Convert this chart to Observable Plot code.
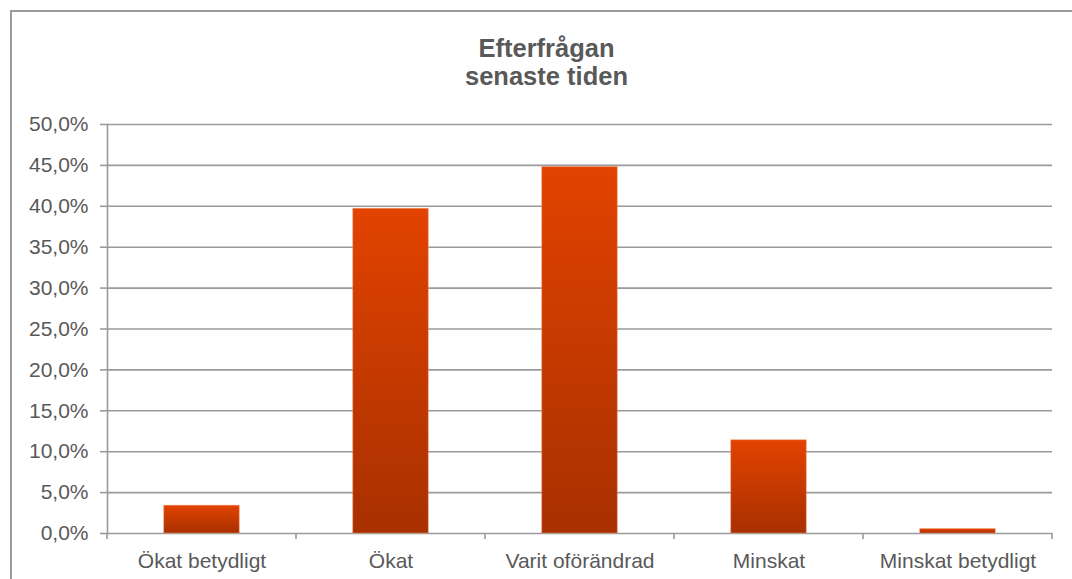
<!DOCTYPE html>
<html><head><meta charset="utf-8">
<script src="https://cdn.jsdelivr.net/npm/d3@7"></script>
<script src="https://cdn.jsdelivr.net/npm/@observablehq/plot@0.6"></script>
<style>
html,body{margin:0;padding:0;background:#fff;overflow:hidden;}
#wrap{position:relative;width:1072px;height:579px;font-family:"Liberation Sans",Arial,sans-serif;}
#frame{position:absolute;left:10px;top:10px;width:1100px;height:620px;border:2px solid #9a9a9a;box-sizing:border-box;}
#title{position:absolute;left:0;width:1093px;top:34px;text-align:center;font-weight:bold;font-size:25.5px;line-height:28px;color:#595959;}
#chart{position:absolute;left:0;top:0;}
</style></head><body>
<div id="wrap"><div id="frame"></div><div id="chart"></div><div id="title">Efterfrågan<br>senaste tiden</div></div>
<script>
const categories = ["Ökat betydligt", "Ökat", "Varit oförändrad", "Minskat", "Minskat betydligt"];
const values = [3.4, 39.7, 44.8, 11.4, 0.55];
const yTicks = [0, 5, 10, 15, 20, 25, 30, 35, 40, 45, 50];

const data = categories.map((c, i) => ({category: c, value: values[i]}));
const gridColor = "#9a9a9a";

const plot = Plot.plot({
  width: 1072,
  height: 579,
  marginLeft: 107,
  marginRight: 20,
  marginTop: 124,
  marginBottom: 46,
  style: {fontFamily: '"Liberation Sans", Arial, sans-serif', fontSize: "21px", color: "#595959", background: "transparent", overflow: "visible"},
  x: {domain: categories, paddingInner: 0.6, paddingOuter: 0.3, round: false, label: null},
  y: {domain: [0, 50], label: null},
  marks: [
    () => {
      const defs = d3.create("svg:defs");
      const g = defs.append("linearGradient").attr("id", "barGrad")
        .attr("x1", 0).attr("y1", 0).attr("x2", 0).attr("y2", 1);
      g.append("stop").attr("offset", "0%").attr("stop-color", "#e24300");
      g.append("stop").attr("offset", "100%").attr("stop-color", "#a83000");
      return defs.node();
    },
    Plot.ruleY(yTicks, {stroke: gridColor, strokeWidth: 1.6}),
    Plot.frame({anchor: "left", stroke: gridColor, strokeWidth: 1.6}),
    Plot.barY(data, {x: "category", y: "value", fill: "url(#barGrad)", stroke: "#f3a07c", strokeOpacity: 0.45, strokeWidth: 1}),
    Plot.axisY(yTicks, {
      tickFormat: d => d.toFixed(1).replace(".", ",") + "%",
      tickSize: 7, tickPadding: 12, stroke: gridColor, strokeWidth: 1.6, fill: "#595959", label: null
    }),
    Plot.axisX({tickSize: 0, tickPadding: 20, fill: "#595959", label: null})
  ]
});

// category boundary ticks below the baseline, from the x scale
const xs = plot.scale("x");
const ys = plot.scale("y");
const gap = xs.step - xs.bandwidth;
const bounds = categories.map(c => xs.apply(c) - gap / 2);
bounds.push(xs.apply(categories[categories.length - 1]) + xs.bandwidth + gap / 2);
const base = ys.apply(0);
d3.select(plot).append("g")
  .attr("stroke", gridColor).attr("stroke-width", 1.6)
  .selectAll("line").data(bounds).join("line")
  .attr("x1", d => d).attr("x2", d => d)
  .attr("y1", base).attr("y2", base + 6);

document.getElementById("chart").append(plot);
</script>
</body></html>
